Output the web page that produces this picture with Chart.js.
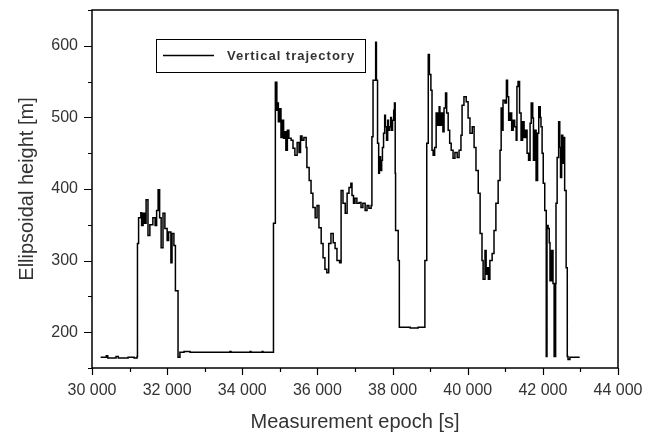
<!DOCTYPE html>
<html>
<head>
<meta charset="utf-8">
<title>Vertical trajectory</title>
<script src="https://cdn.jsdelivr.net/npm/chart.js@4.4.1/dist/chart.umd.min.js"></script>
<style>
    body { margin: 0; background: #fff; }
    #wrap { width: 658px; height: 436px; }
</style>
</head>
<body>
<div id="wrap"><canvas id="chart-trajectory"></canvas></div>
<script>
// measurement epochs [s] and ellipsoidal heights [m]
const epochs = [
    30230, 30380, 30420, 30640, 30700, 30960, 31120, 31200, 31210, 31240,
    31300, 31320, 31360, 31400, 31440, 31490, 31540, 31620, 31680, 31720,
    31760, 31800, 31840, 31890, 31940, 32000, 32040, 32100, 32130, 32180,
    32220, 32280, 32290, 32340, 32450, 32610, 33670, 33700, 34210, 34230,
    34530, 34550, 34780, 34830, 34880, 34920, 34940, 34960, 35000, 35030,
    35060, 35100, 35140, 35160, 35200, 35240, 35300, 35350, 35400, 35460,
    35510, 35550, 35590, 35640, 35700, 35720, 35780, 35830, 35880, 35940,
    35990, 36040, 36100, 36150, 36200, 36250, 36300, 36360, 36420, 36470,
    36520, 36590, 36630, 36680, 36740, 36790, 36840, 36890, 36920, 36960,
    37000, 37050, 37110, 37160, 37210, 37270, 37320, 37370, 37430, 37450,
    37480, 37550, 37570, 37600, 37630, 37650, 37680, 37710, 37730, 37760,
    37790, 37810, 37840, 37870, 37890, 37920, 37950, 37970, 38000, 38030,
    38050, 38070, 38080, 38150, 38180, 38470, 38680, 38850, 38860, 38910,
    38950, 38980, 39020, 39050, 39080, 39120, 39160, 39200, 39240, 39260,
    39300, 39340, 39370, 39410, 39440, 39480, 39520, 39560, 39610, 39660,
    39720, 39770, 39820, 39850, 39900, 39960, 40010, 40060, 40120, 40170,
    40220, 40280, 40330, 40380, 40410, 40460, 40490, 40530, 40550, 40590,
    40650, 40700, 40750, 40810, 40860, 40890, 40910, 40940, 40990, 41030,
    41060, 41090, 41130, 41170, 41210, 41250, 41290, 41310, 41340, 41380,
    41420, 41460, 41500, 41540, 41580, 41620, 41660, 41690, 41730, 41750,
    41790, 41820, 41860, 41890, 41930, 41950, 41980, 42010, 42050, 42090,
    42110, 42140, 42170, 42190, 42230, 42270, 42300, 42340, 42350, 42380,
    42420, 42450, 42470, 42500, 42530, 42550, 42580, 42620, 42650, 42670,
    42720, 42830, 42960
];
const heights = [
    165, 167, 164, 166, 164, 165, 164, 166, 324, 360,
    367, 349, 366, 352, 385, 335, 350, 360, 349, 370,
    399, 360, 318, 366, 345, 328, 340, 297, 338, 321,
    258, 258, 165, 172, 173, 172, 173, 172, 173, 172,
    173, 172, 172, 352, 549, 510, 520, 494, 512, 472,
    496, 471, 480, 454, 482, 471, 468, 457, 447, 465,
    451, 474, 468, 472, 458, 430, 412, 394, 374, 360,
    377, 346, 324, 304, 288, 283, 324, 338, 325, 317,
    300, 297, 398, 380, 366, 394, 402, 408, 391, 380,
    387, 380, 381, 374, 380, 370, 377, 373, 377, 473,
    552, 605, 552, 464, 422, 445, 426, 440, 458, 478,
    503, 487, 468, 496, 482, 487, 500, 482, 496, 510,
    520, 422, 342, 300, 207, 206, 207, 207, 300, 464,
    588, 560, 538, 454, 447, 458, 506, 489, 515, 489,
    506, 480, 513, 534, 506, 482, 464, 454, 443, 451,
    444, 454, 475, 517, 529, 522, 499, 478, 487, 458,
    426, 394, 338, 300, 274, 314, 281, 290, 274, 300,
    310, 342, 380, 412, 454, 513, 482, 524, 520, 552,
    529, 496, 506, 482, 496, 487, 468, 543, 550, 506,
    468, 494, 472, 482, 450, 440, 492, 520, 499, 440,
    482, 412, 478, 515, 500, 487, 450, 408, 370, 166,
    349, 345, 325, 272, 314, 268, 166, 268, 380, 444,
    494, 458, 416, 475, 436, 472, 398, 290, 166, 162,
    165, 165, 166
];
const xTicks = [30000, 32000, 34000, 36000, 38000, 40000, 42000, 44000];
const yTicks = [200, 300, 400, 500, 600];

const FONT = 'Arial, "Liberation Sans", sans-serif';

// boxed frame, outward major/minor ticks and the legend box inside the plot
const frameAndLegend = {
    id: 'frameAndLegend',
    afterDatasetsDraw(chart) {
        const {ctx, chartArea: a, scales: {x, y}} = chart;
        ctx.save();
        ctx.strokeStyle = '#000';
        ctx.lineWidth = 1.5;
        ctx.strokeRect(a.left, a.top, a.right - a.left, a.bottom - a.top);

        ctx.lineWidth = 1.2;
        ctx.beginPath();
        for (let v = x.min; v <= x.max; v += 1000) {
            const px = Math.round(x.getPixelForValue(v)) + 0.5;
            const len = v % 2000 === 0 ? 7 : 4;
            ctx.moveTo(px, a.bottom);
            ctx.lineTo(px, a.bottom + len);
        }
        for (let v = y.min; v <= y.max; v += 50) {
            const py = Math.round(y.getPixelForValue(v)) + 0.5;
            const len = v % 100 === 0 ? 8 : 4;
            ctx.moveTo(a.left, py);
            ctx.lineTo(a.left - len, py);
        }
        ctx.stroke();

        // legend
        const lx = a.left + 64, ly = a.top + 29, lw = 209, lh = 33;
        ctx.lineWidth = 1;
        ctx.strokeRect(lx + 0.5, ly + 0.5, lw, lh);
        ctx.lineWidth = 1.4;
        ctx.beginPath();
        ctx.moveTo(lx + 7, ly + 16.5);
        ctx.lineTo(lx + 58, ly + 16.5);
        ctx.stroke();
        ctx.fillStyle = '#333';
        ctx.font = 'bold 13px ' + FONT;
        ctx.letterSpacing = '1px';
        ctx.textBaseline = 'middle';
        ctx.fillText(chart.data.datasets[0].label, lx + 71, ly + 17);
        ctx.restore();
    }
};

let ctt = document.getElementById("chart-trajectory").getContext("2d");
let chart_trajectory = new Chart(ctt, {
    type: 'line',
    data: {
        datasets: [{
            label: 'Vertical trajectory',
            data: epochs.map((t, i) => ({x: t, y: heights[i]})),
            borderColor: '#000',
            borderWidth: 1.5,
            pointRadius: 0,
            stepped: true,
            fill: false
        }]
    },
    options: {
        responsive: true,
        maintainAspectRatio: false,
        animation: false,
        layout: {
            padding: {top: 10, right: 40, left: 0, bottom: 0}
        },
        scales: {
            x: {
                type: 'linear',
                min: 30000,
                max: 44000,
                afterFit: function (scale) {
                    scale.height = 68;
                    scale.paddingLeft = 0;
                    scale.paddingRight = 0;
                },
                afterBuildTicks: function (scale) {
                    scale.ticks = xTicks.map(v => ({value: v}));
                },
                grid: {display: false, drawTicks: false},
                border: {display: false},
                ticks: {
                    padding: 13,
                    color: '#333',
                    font: {family: FONT, size: 16},
                    maxRotation: 0,
                    callback: function (value) {
                        return String(value / 1000) + ' 000';
                    }
                },
                title: {
                    display: true,
                    text: 'Measurement epoch [s]',
                    color: '#333',
                    font: {family: FONT, size: 20},
                    padding: {top: 0, bottom: 2}
                }
            },
            y: {
                min: 150,
                max: 650,
                afterFit: function (scale) {
                    scale.width = 92;
                    scale.paddingTop = 0;
                    scale.paddingBottom = 0;
                },
                afterBuildTicks: function (scale) {
                    scale.ticks = yTicks.map(v => ({value: v}));
                },
                grid: {display: false, drawTicks: false},
                border: {display: false},
                ticks: {
                    padding: 14,
                    color: '#333',
                    font: {family: FONT, size: 16}
                },
                title: {
                    display: true,
                    text: 'Ellipsoidal height [m]',
                    color: '#333',
                    font: {family: FONT, size: 20},
                    padding: {top: 15, bottom: 0}
                }
            }
        },
        plugins: {
            legend: {display: false},
            tooltip: {enabled: false}
        }
    },
    plugins: [frameAndLegend]
});
</script>
</body>
</html>
